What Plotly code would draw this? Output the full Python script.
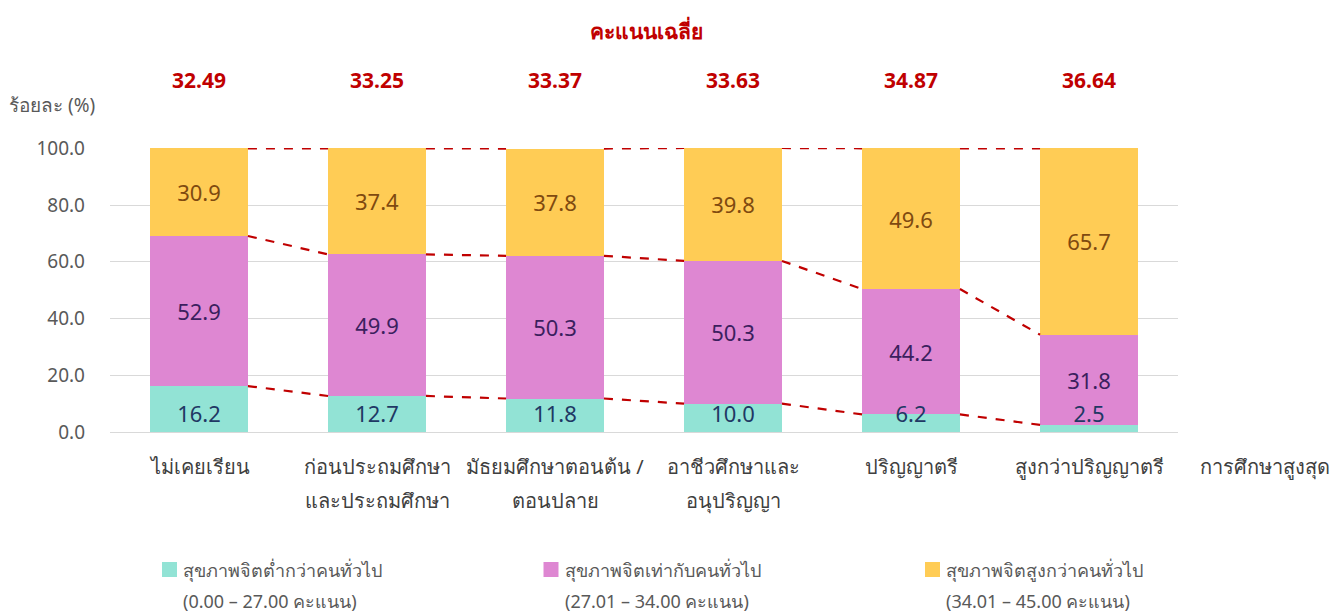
import plotly.graph_objects as go

categories = ["ไม่เคยเรียน", "ก่อนประถมศึกษา\nและประถมศึกษา", "มัธยมศึกษาตอนต้น /\nตอนปลาย",
              "อาชีวศึกษาและ\nอนุปริญญา", "ปริญญาตรี", "สูงกว่าปริญญาตรี"]
low = [16.2, 12.7, 11.8, 10.0, 6.2, 2.5]
mid = [52.9, 49.9, 50.3, 50.3, 44.2, 31.8]
high = [30.9, 37.4, 37.8, 39.8, 49.6, 65.7]
avg_scores = ["32.49", "33.25", "33.37", "33.63", "34.87", "36.64"]
series_names = ["สุขภาพจิตต่ำกว่าคนทั่วไป", "สุขภาพจิตเท่ากับคนทั่วไป", "สุขภาพจิตสูงกว่าคนทั่วไป"]
series_ranges = ["(0.00 – 27.00 คะแนน)", "(27.01 – 34.00 คะแนน)", "(34.01 – 45.00 คะแนน)"]
y_ticks = [0, 20, 40, 60, 80, 100]

FONT = "Noto Sans, DejaVu Sans, sans-serif"
COLORS = ["#92E3D5", "#DE87D2", "#FFCC55"]
RED = "#C00000"
BW = 0.55
W, H = 1340, 615
L, R, T, B = 110, 162, 148, 183
PW, PH = W - L - R, H - T - B


def px(xp):
    return (xp - L) / PW


def py(yp):
    return (H - B - yp) / PH


xs = list(range(len(categories)))

fig = go.Figure()
fig.add_bar(x=xs, y=low, name=series_names[0], marker=dict(color=COLORS[0], line=dict(width=0)),
            width=BW, textposition="none", hoverinfo="y")
fig.add_bar(x=xs, y=mid, name=series_names[1], marker=dict(color=COLORS[1], line=dict(width=0)),
            width=BW, text=[f"{v:.1f}" for v in mid], textposition="inside",
            insidetextanchor="middle", textangle=0, constraintext="none",
            textfont=dict(size=22, color="#3B1F5E", family=FONT))
fig.add_bar(x=xs, y=high, name=series_names[2], marker=dict(color=COLORS[2], line=dict(width=0)),
            width=BW, text=[f"{v:.1f}" for v in high], textposition="inside",
            insidetextanchor="middle", textangle=0, constraintext="none",
            textfont=dict(size=22, color="#7F4A10", family=FONT))

# labels of the lowest band, sitting near the base
fig.add_scatter(x=xs, y=[5.3] * len(xs), mode="text", text=[f"{v:.1f}" for v in low],
                textfont=dict(size=22, color="#1F3864", family=FONT), showlegend=False,
                hoverinfo="skip", cliponaxis=False)

# dashed connectors between stacked boundaries
cum1 = low
cum2 = [a + b for a, b in zip(low, mid)]
cum3 = [a + b + c for a, b, c in zip(low, mid, high)]
for cum in (cum1, cum2, cum3):
    lx, ly = [], []
    for i in range(len(xs) - 1):
        lx += [xs[i] + BW / 2, xs[i + 1] - BW / 2, None]
        ly += [cum[i], cum[i + 1], None]
    fig.add_scatter(x=lx, y=ly, mode="lines", line=dict(color=RED, width=2.2, dash="dash"),
                    showlegend=False, hoverinfo="skip", cliponaxis=False)

annotations = []
shapes = []


def ann(x, y, text, size, color, xref="paper", xanchor="center"):
    annotations.append(dict(x=x, y=y, xref=xref, yref="paper", text=text, showarrow=False,
                            xanchor=xanchor, yanchor="middle",
                            font=dict(size=size, color=color, family=FONT)))


for i, s in enumerate(avg_scores):
    ann(xs[i], py(80), f"<b>{s}</b>", 21, RED, xref="x")
ann(px(646), py(30), "<b>คะแนนเฉลี่ย</b>", 21, RED)
ann(px(7), py(105), "ร้อยละ (%)", 19, "#595959", xanchor="left")

# category labels (two-line with wide line spacing)
for i, c in enumerate(categories):
    for k, line in enumerate(c.split("\n")):
        ann(xs[i], py(466 + 34 * k), line, 20, "#404040", xref="x")
ann(px(1265), py(466), "การศึกษาสูงสุด", 20, "#404040")

# legend
for j in range(3):
    x0 = 162 + 381.5 * j
    shapes.append(dict(type="rect", xref="paper", yref="paper", x0=px(x0), x1=px(x0 + 15),
                       y0=py(577), y1=py(562), fillcolor=COLORS[j], line=dict(width=0)))
    ann(px(x0 + 19), py(570), series_names[j], 18, "#595959", xanchor="left")
    ann(px(x0 + 19), py(601), series_ranges[j], 18, "#595959", xanchor="left")

fig.update_layout(
    barmode="stack",
    width=W, height=H,
    margin=dict(l=L, r=R, t=T, b=B),
    plot_bgcolor="white", paper_bgcolor="white",
    font=dict(family=FONT, color="#595959"),
    showlegend=False,
    xaxis=dict(range=[-0.5, 5.5], tickvals=xs, ticktext=[""] * len(xs), showgrid=False,
               showline=False, zeroline=False, ticks="", automargin=False),
    yaxis=dict(range=[0, 100.1], tickvals=y_ticks, ticktext=[f"{v:.1f}" for v in y_ticks],
               tickfont=dict(size=19, color="#595959", family=FONT), gridcolor="#D9D9D9",
               gridwidth=1, zeroline=True, zerolinecolor="#D9D9D9", zerolinewidth=1,
               showline=False, ticks="", ticklabelstandoff=24, automargin=False),
    annotations=annotations,
    shapes=shapes,
)

fig.write_html("out.html", config={"displayModeBar": False},
               post_script="document.body.style.margin='0';document.body.style.overflow='hidden';")
